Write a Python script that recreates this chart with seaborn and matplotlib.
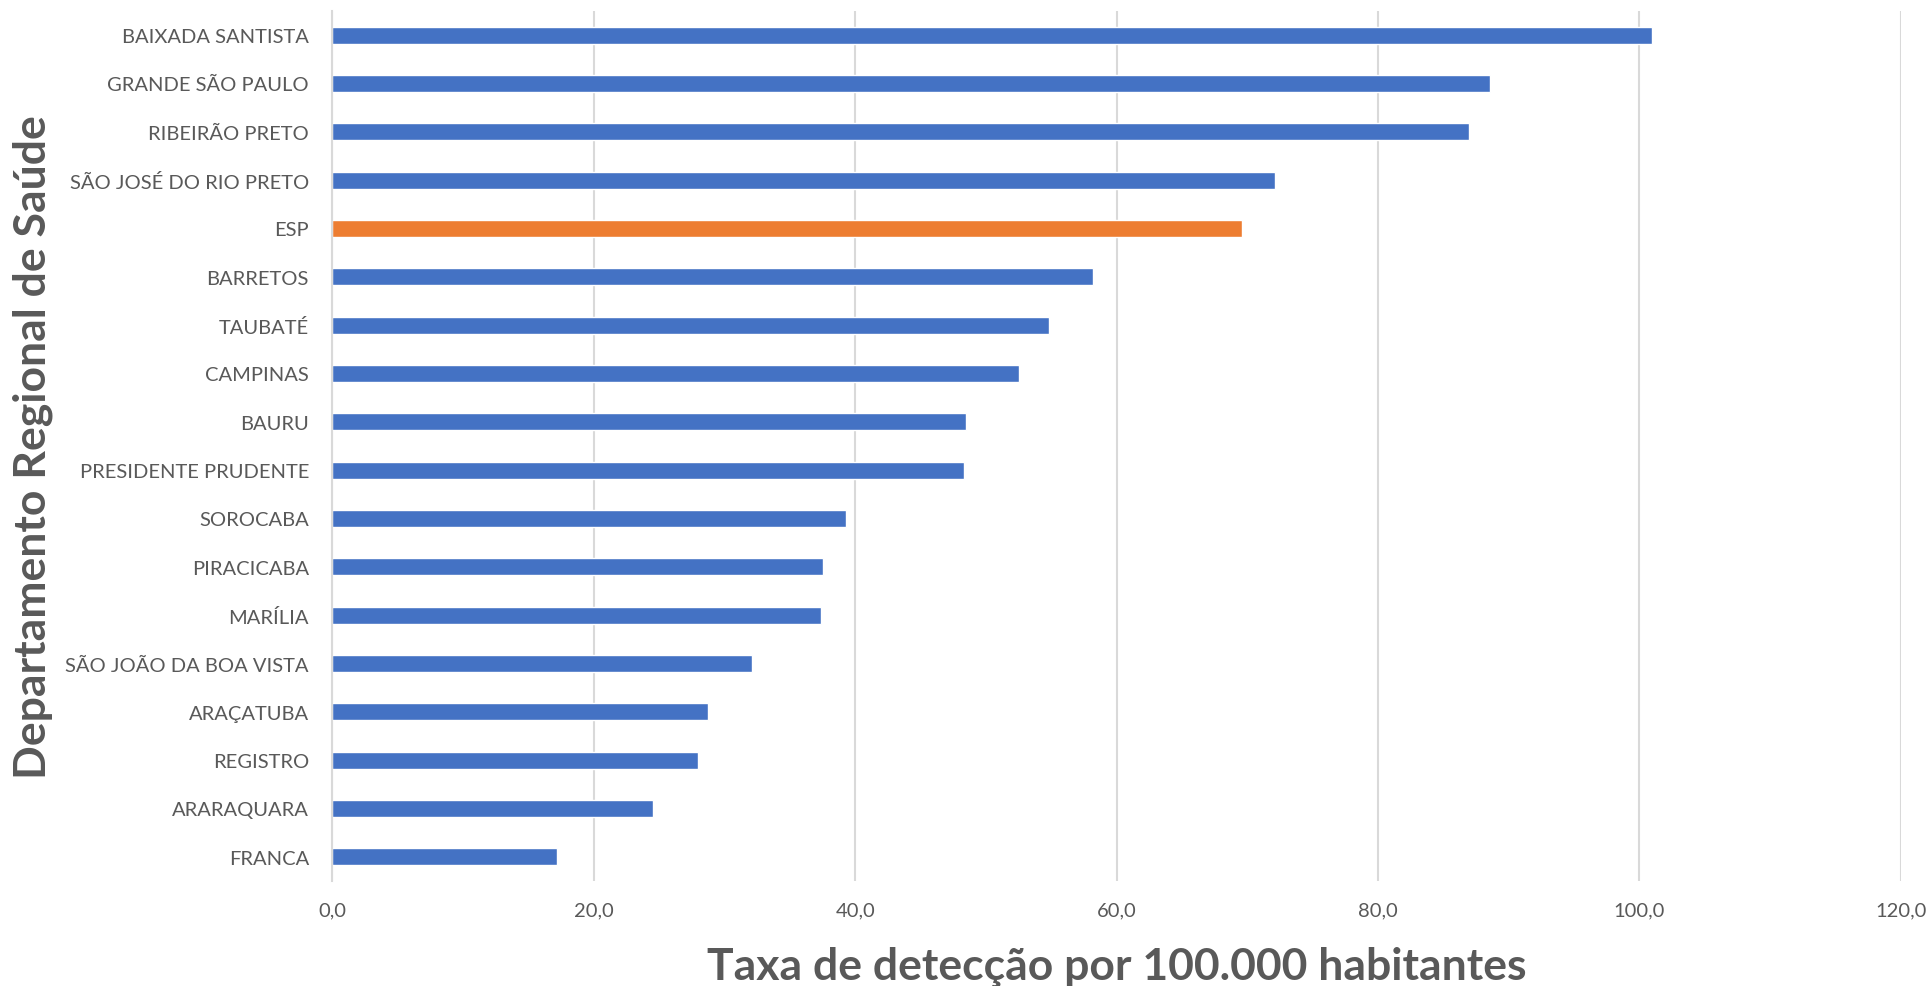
import matplotlib
matplotlib.use('Agg')
import matplotlib.pyplot as plt
import seaborn as sns
import pandas as pd
from matplotlib.ticker import FuncFormatter

# dados
regioes = ['BAIXADA SANTISTA', 'GRANDE SÃO PAULO', 'RIBEIRÃO PRETO', 'SÃO JOSÉ DO RIO PRETO',
           'ESP', 'BARRETOS', 'TAUBATÉ', 'CAMPINAS', 'BAURU', 'PRESIDENTE PRUDENTE',
           'SOROCABA', 'PIRACICABA', 'MARÍLIA', 'SÃO JOÃO DA BOA VISTA', 'ARAÇATUBA',
           'REGISTRO', 'ARARAQUARA', 'FRANCA']
taxas = [101.0, 88.6, 87.0, 72.1, 69.6, 58.2, 54.8, 52.5, 48.5, 48.3,
         39.3, 37.5, 37.4, 32.1, 28.7, 28.0, 24.5, 17.2]
destaque = 'ESP'
x_ticks = [0, 20, 40, 60, 80, 100, 120]

AZUL, LARANJA, CINZA = '#4472C4', '#ED7D31', '#595959'

df = pd.DataFrame({'regiao': regioes, 'taxa': taxas})
cores = {r: (LARANJA if r == destaque else AZUL) for r in regioes}

sns.set_style('white')
plt.rcParams['font.family'] = ['Lato', 'DejaVu Sans']

fig = plt.figure(figsize=(19.32, 9.87), dpi=100)
ax = fig.add_axes([0.1721, 0.1064, 0.8117, 0.8815])

sns.barplot(data=df, x='taxa', y='regiao', hue='regiao', palette=cores,
            width=0.35, legend=False, ax=ax, saturation=1)

ax.set_xlim(0, 120)
ax.set_xticks(x_ticks)
ax.xaxis.set_major_formatter(FuncFormatter(lambda v, p: f'{v:.1f}'.replace('.', ',')))
ax.grid(axis='x', color='#d9d9d9', linewidth=1.5)
ax.set_axisbelow(True)
for s in ['top', 'right', 'bottom']:
    ax.spines[s].set_visible(False)
ax.spines['left'].set_color('#d9d9d9')
ax.spines['left'].set_linewidth(1.5)

ax.tick_params(axis='both', length=0, labelsize=14.5, colors=CINZA)
ax.tick_params(axis='y', pad=17)
ax.tick_params(axis='x', pad=15)

ax.set_xlabel('Taxa de detecção por 100.000 habitantes', fontsize=32,
              fontweight='bold', color=CINZA)
ax.set_ylabel('Departamento Regional de Saúde', fontsize=32, fontweight='bold',
              color=CINZA)
ax.yaxis.set_label_coords(-0.178, 0.5)
ax.xaxis.set_label_coords(0.5, -0.074)

plt.savefig('out.png', dpi=100)
plt.close()
